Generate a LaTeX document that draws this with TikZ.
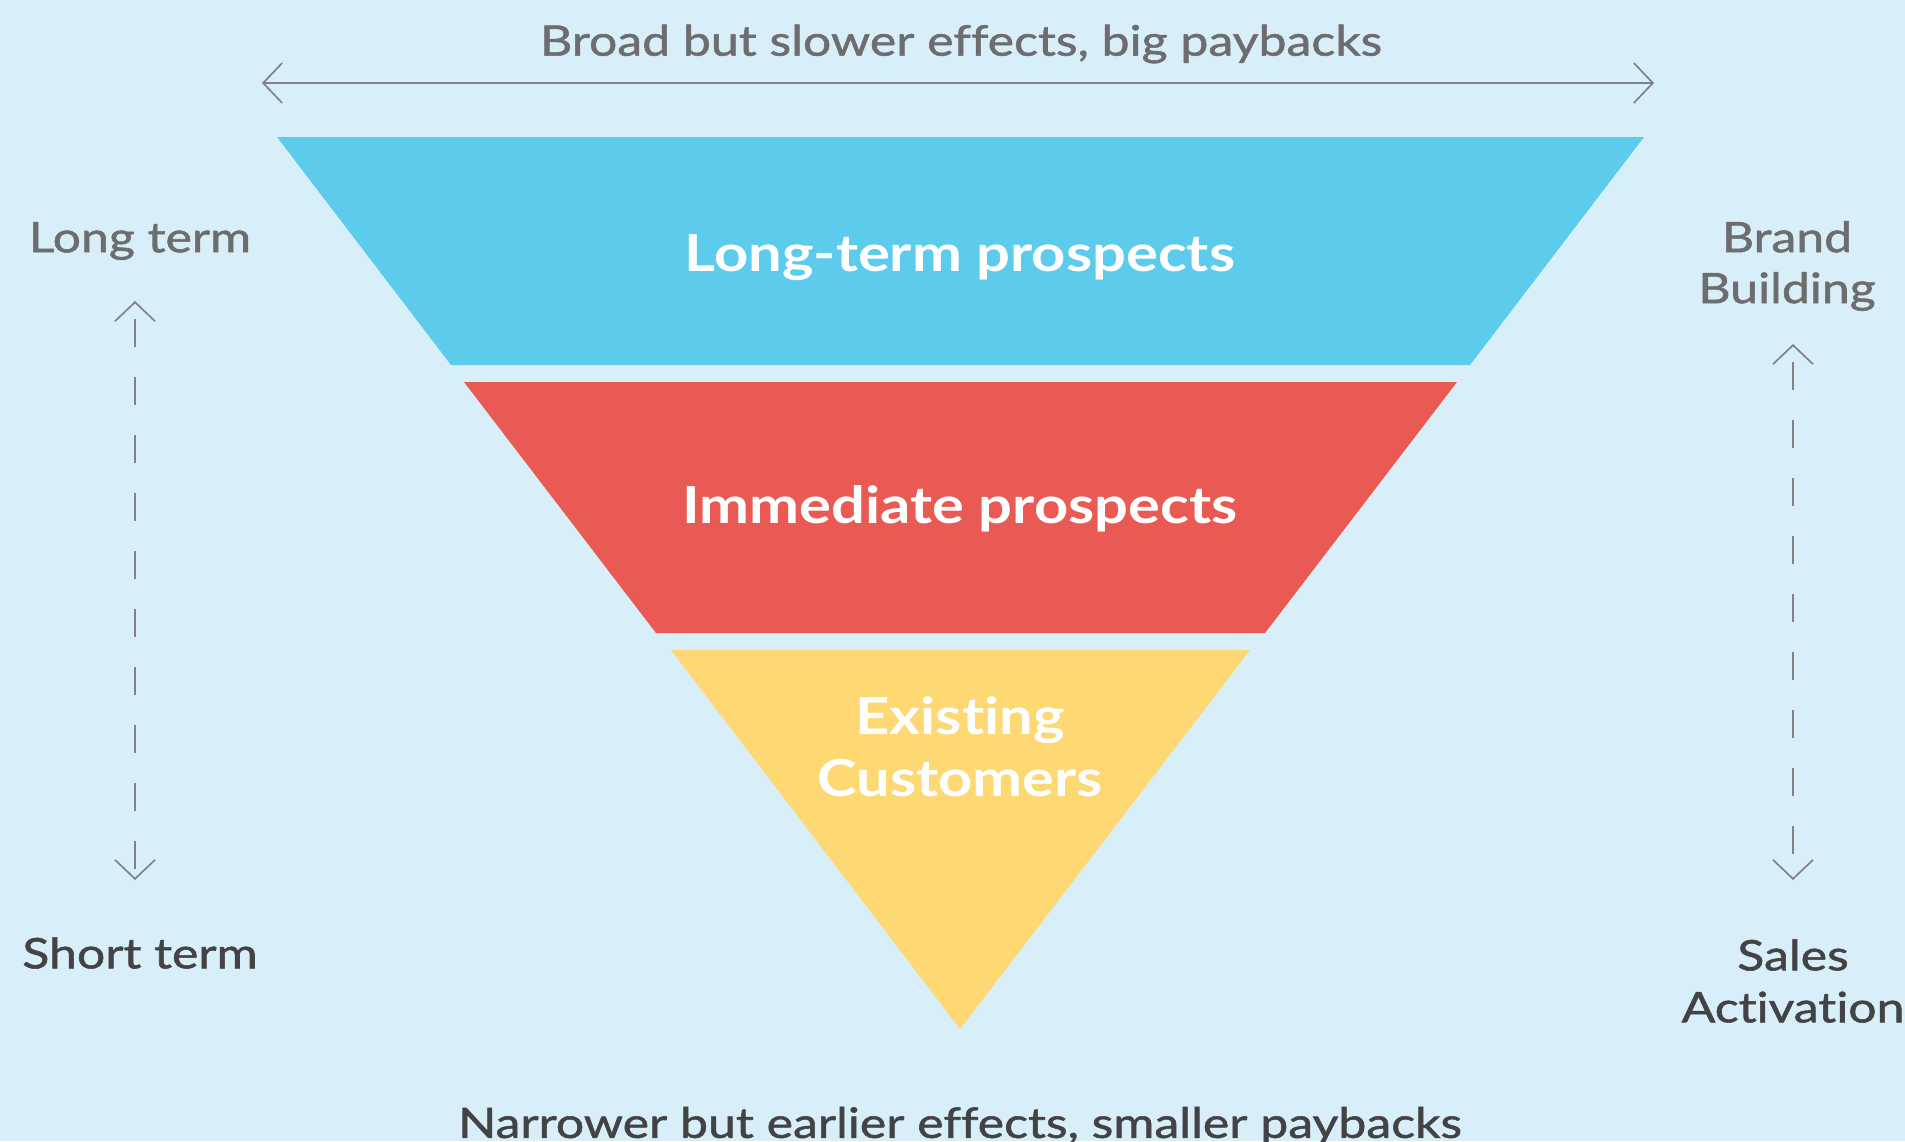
\documentclass[tikz,border=0pt]{standalone}
\usepackage{fontspec}
\setmainfont{Lato}[Ligatures=NoCommon, FakeStretch=1.19, FakeBold=1.3]
\newfontfamily\boldface{Lato Bold}[Ligatures=NoCommon, FakeStretch=1.17]
\usetikzlibrary{arrows.meta}

\definecolor{bgblue}{HTML}{D8EFF9}
\definecolor{tierblue}{HTML}{5DCBEC}
\definecolor{tierred}{HTML}{EA5A55}
\definecolor{tieryellow}{HTML}{FDD873}
\definecolor{softgray}{HTML}{6D6D70}
\definecolor{darkgray}{HTML}{434345}
\definecolor{arrowgray}{HTML}{808285}

\tikzset{
  tierlabel/.style={text=white, font=\boldface\fontsize{51}{62}\selectfont, align=center, inner sep=0pt},
  sidelabel/.style={text=softgray, font=\fontsize{42}{51}\selectfont, align=center, inner sep=0pt},
  darklabel/.style={text=darkgray, font=\fontsize{42}{52}\selectfont, align=center, inner sep=0pt},
  barb/.style={arrowgray, line width=1.7pt,
    {Straight Barb[length=19pt,width=40pt]}-{Straight Barb[length=19pt,width=40pt]}},
  dashbarb/.style={barb, dash pattern=on 28pt off 30pt, dash phase=-16pt},
}

\begin{document}
\begin{tikzpicture}[x=1pt,y=-1pt]
  \useasboundingbox[fill=bgblue] (0,0) rectangle (1905,1141);

  % funnel tiers, all cut from one inverted triangle
  \fill[tierblue]   (277,137) -- (1644,137) -- (1470,365) -- (451,365) -- cycle;
  \fill[tierred]    (464,382) -- (1457,382) -- (1265,633) -- (656,633) -- cycle;
  \fill[tieryellow] (671,650) -- (1250,650) -- (960,1029) -- cycle;

  \node[tierlabel] (longprosp) at (960,258) {Long-term prospects};
  \node[tierlabel] (immprosp)  at (960,509) {Immediate prospects};
  \node[tierlabel] (existing)  at (960,747) {Existing\\Customers};

  % horizontal scale
  \node[sidelabel] (broad) at (961,44) {Broad but slower effects, big paybacks};
  \coordinate (hl) at (262,83);
  \coordinate (hr) at (1654,83);
  \draw[barb] (hl) -- (hr);

  \node[darklabel] (narrow) at (960,1126) {Narrower but earlier effects, smaller paybacks};

  % left time scale
  \node[sidelabel] (longterm)  at (140,241) {Long term};
  \node[darklabel] (shortterm) at (140,953) {Short term};
  \coordinate (lt) at (135,301);
  \coordinate (lb) at (135,880);
  \draw[dashbarb] (lt) -- (lb);

  % right effect scale
  \node[sidelabel] (brand) at (1787,266) {Brand\\Building};
  \node[darklabel] (sales) at (1793,981) {Sales\\Activation};
  \coordinate (rt) at (1793,344);
  \coordinate (rb) at (1793,880);
  \draw[dashbarb] (rt) -- (rb);
\end{tikzpicture}
\end{document}
